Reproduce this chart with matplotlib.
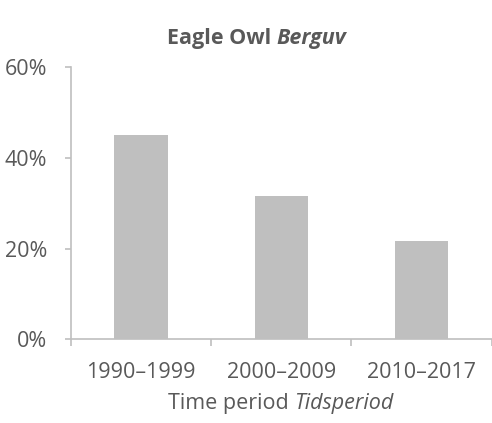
import matplotlib
matplotlib.use("Agg")
from matplotlib import pyplot as plt
from matplotlib.ticker import FixedLocator, FuncFormatter

periods = ["1990–1999", "2000–2009", "2010–2017"]
shares = [45.1, 31.7, 21.6]
yticks = [0, 20, 40, 60]

TXT = "#595959"
GREY = "#BFBFBF"

plt.rcParams["font.family"] = ["Open Sans", "DejaVu Sans"]


def two_part(fig, xc, y, plain, ital, size, weight="normal"):
    # plain part then italic part, centred together on xc (figure px)
    r = fig.canvas.get_renderer()
    a = fig.text(0, y, plain + " ", fontsize=size, fontweight=weight, color=TXT,
                 va="center", ha="left", transform=None)
    b = fig.text(0, y, ital, fontsize=size, fontweight=weight, style="italic",
                 color=TXT, va="center", ha="left", transform=None)
    wa = a.get_window_extent(r).width
    wb = b.get_window_extent(r).width
    x0 = xc - (wa + wb) / 2
    a.set_x(x0)
    b.set_x(x0 + wa)


fig = plt.figure(figsize=(4.92, 4.23), dpi=100)
ax = fig.add_axes([0.1437, 0.1974, 0.856, 0.6436])

x = list(range(len(periods)))
ax.bar(x, shares, width=0.38, color=GREY)

ax.set_xlim(-0.5, 2.5)
ax.set_ylim(0, 60)
ax.set_yticks(yticks)
ax.yaxis.set_major_formatter(FuncFormatter(lambda v, p: f"{v:.0f}%"))
ax.set_xticks(x)
ax.set_xticklabels(periods)
ax.xaxis.set_minor_locator(FixedLocator([-0.5, 0.5, 1.5, 2.5]))

for s in ["top", "right"]:
    ax.spines[s].set_visible(False)
for s in ["left", "bottom"]:
    ax.spines[s].set_color(GREY)
    ax.spines[s].set_linewidth(1.2)

ax.tick_params(axis="x", which="major", length=0, pad=16, labelsize=15.5, labelcolor=TXT)
ax.tick_params(axis="x", which="minor", length=5, width=1.2, color=GREY)
ax.tick_params(axis="y", length=4, width=1.2, color=GREY, pad=13, labelsize=15.5, labelcolor=TXT)

# figure pixel coords (origin bottom-left)
two_part(fig, 256.5, 423 - 38, "Eagle Owl", "Berguv", 15.5, weight="bold")
two_part(fig, 281, 423 - 403, "Time period", "Tidsperiod", 15.5)

fig.savefig("out.png", dpi=100)
